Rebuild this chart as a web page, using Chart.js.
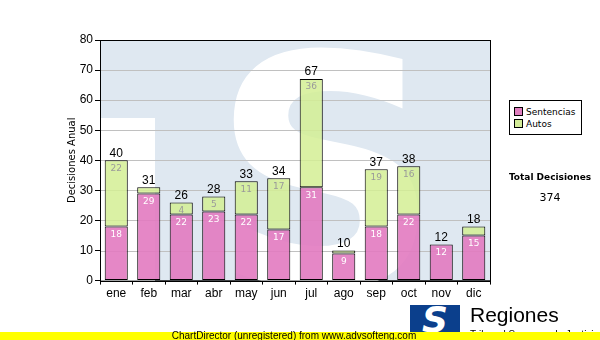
<!DOCTYPE html>
<html lang="es">
<head>
<meta charset="UTF-8" />
<title>Decisiones Anual</title>
<script src="https://cdn.jsdelivr.net/npm/chart.js"></script>
<style>
  body { margin: 0; background: #fff; font-family: "Liberation Sans", Arial, sans-serif; }
  .wrap { position: relative; width: 600px; height: 340px; overflow: hidden; }
  canvas { position: absolute; left: 0; top: 0; }
  .legend {
    position: absolute; left: 509px; top: 100px; width: 73px; height: 35px;
    border: 1px solid #000; background: #fff; box-sizing: border-box;
    font-family: "DejaVu Sans", Verdana, sans-serif; font-size: 9px; padding: 5px 0 0 4px;
  }
  .legend div { height: 12px; line-height: 12px; white-space: nowrap; }
  .legend span { display: inline-block; width: 7px; height: 7px; border: 1px solid #000; margin-right: 3px; vertical-align: -1px; }
  .total { position: absolute; left: 502px; width: 96px; text-align: center; font-family: "DejaVu Sans", Verdana, sans-serif; }
  .logo { position: absolute; left: 410px; top: 305px; width: 50px; height: 30px; background: #0b3f8c;
    color: #fff; font: italic bold 36px "DejaVu Sans", sans-serif; line-height: 30px; text-align: center; overflow: hidden; }
  .brand { position: absolute; left: 470px; top: 303px; font-size: 21px; color: #000; }
  .sub { position: absolute; left: 470px; top: 329px; font-size: 10px; color: #000; }
  .bar { position: absolute; left: 0; top: 332px; width: 600px; height: 8px; background: #ffff00;
    font-size: 10px; line-height: 8px; text-align: center; color: #000; }
  .bar span { position: relative; left: -6px; }
</style>
</head>
<body>
<div class="wrap">
  <canvas id="chart" width="600" height="340"></canvas>
  <div class="legend">
    <div><span style="background:#e07fc0"></span>Sentencias</div>
    <div><span style="background:#d3ec98"></span>Autos</div>
  </div>
  <div class="total" style="top:172px;font-size:9px;font-weight:bold">Total Decisiones</div>
  <div class="total" style="top:191px;font-size:11px">374</div>
  <div class="logo">S</div>
  <div class="brand">Regiones</div>
  <div class="sub">Tribunal Supremo de Justicia</div>
  <div class="bar"><span>ChartDirector (unregistered) from www.advsofteng.com</span></div>
</div>
<script>
const months = ['ene', 'feb', 'mar', 'abr', 'may', 'jun', 'jul', 'ago', 'sep', 'oct', 'nov', 'dic'];
const sentencias = [18, 29, 22, 23, 22, 17, 31, 9, 18, 22, 12, 15];
const autos = [22, 2, 4, 5, 11, 17, 36, 1, 19, 16, 0, 3];

// light blue plot background with the big white watermark
const watermark = {
  id: 'watermark',
  beforeDatasetsDraw(chart) {
    const { ctx, chartArea: a } = chart;
    ctx.save();
    ctx.beginPath();
    ctx.rect(a.left, a.top, a.right - a.left, a.bottom - a.top);
    ctx.clip();
    ctx.fillStyle = '#dfe8f1';
    ctx.fillRect(a.left, a.top, a.right - a.left, a.bottom - a.top);
    ctx.fillStyle = '#ffffff';
    ctx.fillRect(a.left, a.top + 78, 55, a.bottom - a.top);
    ctx.font = 'bold 320px "DejaVu Sans"';
    ctx.textAlign = 'center';
    ctx.textBaseline = 'alphabetic';
    ctx.fillText('S', a.left + 226, a.top + 245);
    ctx.restore();
    // grid lines on top of the watermark
    const y = chart.scales.y;
    ctx.save();
    ctx.strokeStyle = '#c0c0c0';
    ctx.lineWidth = 1;
    y.ticks.forEach(t => {
      if (t.value === 0 || t.value === 80) return;
      const py = Math.round(y.getPixelForValue(t.value)) + 0.5;
      ctx.beginPath();
      ctx.moveTo(a.left, py);
      ctx.lineTo(a.right, py);
      ctx.stroke();
    });
    ctx.restore();
  },
  afterDatasetsDraw(chart) {
    const { ctx, chartArea: a } = chart;
    ctx.save();
    ctx.strokeStyle = '#000';
    ctx.lineWidth = 1;
    ctx.strokeRect(Math.round(a.left) + 0.5, Math.round(a.top) + 0.5, Math.round(a.right - a.left), Math.round(a.bottom - a.top));
    ctx.restore();
  }
};

// segment values inside the bars, totals above them
const barLabels = {
  id: 'barLabels',
  afterDatasetsDraw(chart) {
    const { ctx } = chart;
    const m0 = chart.getDatasetMeta(0).data;
    const m1 = chart.getDatasetMeta(1).data;
    ctx.save();
    ctx.textAlign = 'center';
    ctx.textBaseline = 'middle';
    months.forEach((_, i) => {
      ctx.font = '9px "DejaVu Sans"';
      if (sentencias[i] >= 4) {
        ctx.fillStyle = '#ffffff';
        ctx.fillText(sentencias[i], m0[i].x, m0[i].y + 8);
      }
      if (autos[i] >= 4) {
        ctx.fillStyle = '#9a9a9a';
        ctx.fillText(autos[i], m1[i].x, m1[i].y + 8);
      }
      ctx.font = '12px "Liberation Sans"';
      ctx.fillStyle = '#000';
      ctx.fillText(sentencias[i] + autos[i], m1[i].x, m1[i].y - 7);
    });
    ctx.restore();
  }
};

new Chart(document.getElementById('chart'), {
  type: 'bar',
  data: {
    labels: months,
    datasets: [
      {
        label: 'Sentencias',
        data: sentencias,
        backgroundColor: 'rgba(226,122,192,0.9)',
        borderColor: '#000',
        borderWidth: 1,
        borderSkipped: false
      },
      {
        label: 'Autos',
        data: autos,
        backgroundColor: 'rgba(212,238,148,0.85)',
        borderColor: '#000',
        borderWidth: 1,
        borderSkipped: false
      }
    ]
  },
  options: {
    responsive: false,
    animation: false,
    layout: { padding: { left: 66, right: 110, top: 40, bottom: 37 } },
    categoryPercentage: 1,
    barPercentage: 0.71,
    plugins: {
      legend: { display: false },
      tooltip: { enabled: false }
    },
    scales: {
      x: {
        stacked: true,
        grid: { display: true, drawOnChartArea: false, tickLength: 4, color: '#000' },
        border: { color: '#000' },
        ticks: { color: '#000', font: { family: 'Liberation Sans', size: 12 }, padding: 2 }
      },
      y: {
        stacked: true,
        min: 0,
        max: 80,
        afterFit(scale) { scale.width = 34; },
        grid: { drawOnChartArea: false, tickLength: 5, color: '#000' },
        border: { color: '#000' },
        ticks: { stepSize: 10, color: '#000', font: { family: 'Liberation Sans', size: 12 }, padding: 2 },
        title: {
          display: true,
          text: 'Decisiones Anual',
          color: '#000',
          font: { family: 'DejaVu Sans', size: 10 },
          padding: 0
        }
      }
    }
  },
  plugins: [watermark, barLabels]
});
</script>
</body>
</html>
